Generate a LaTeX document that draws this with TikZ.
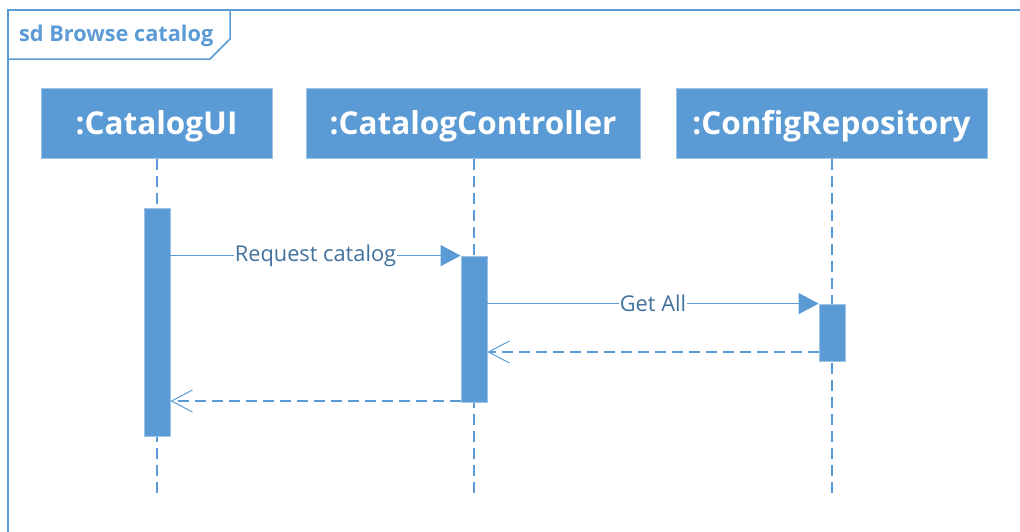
\documentclass[tikz,border=0pt]{standalone}
\usepackage{fontspec}
\setmainfont{Open Sans}
\usetikzlibrary{arrows.meta}
\definecolor{umlblue}{HTML}{5B9BD5}
\definecolor{umledge}{HTML}{9DC3E6}
\definecolor{umltext}{HTML}{41719C}

\tikzset{
  frameline/.style={draw=umlblue, line width=1.5pt},
  head/.style={fill=umlblue, draw=umledge, line width=1pt, text=white,
    font=\fontsize{31.5}{36}\selectfont\bfseries, inner sep=0pt,
    text height=22pt, text depth=0pt},
  lifeline/.style={draw=umlblue, line width=1.5pt, dash pattern=on 11pt off 6pt},
  act/.style={fill=umlblue, draw=umledge, line width=0.8pt, minimum width=26pt, inner sep=0pt},
  msg/.style={draw=umlblue, line width=1.2pt, -{Triangle[length=20pt,width=21pt]}},
  reply/.style={draw=umlblue, line width=1.2pt, dash pattern=on 11pt off 6pt,
    -{Straight Barb[length=21pt,width=22pt,line width=1pt]}},
  msglabel/.style={fill=white, text=umltext, inner sep=1pt,
    font=\fontsize{21.8}{26}\selectfont},
}

\begin{document}
\begin{tikzpicture}[x=1pt,y=-1pt]
\useasboundingbox (0,0) rectangle (1020,531);

% interaction frame and its name tag
\draw[frameline] (8,540) -- (8,10) -- (1030,10);
\draw[frameline] (8,59) -- (210,59) -- (230,39) -- (230,10);
\node[anchor=base west, text=umlblue, font=\fontsize{21.7}{26}\selectfont\bfseries, inner sep=0pt]
  (title) at (19,41) {sd Browse catalog};

% lifeline heads
\node[head, minimum width=231pt, minimum height=70pt] (ui)  at (156.5,123) {:CatalogUI};
\node[head, minimum width=334pt, minimum height=70pt] (ctl) at (473,123) {:CatalogController};
\node[head, minimum width=311pt, minimum height=70pt] (rep) at (831.5,123) {:ConfigRepository};

% lifeline ends
\coordinate (uiend)  at (157,495);
\coordinate (ctlend) at (474,495);
\coordinate (repend) at (832,495);

\draw[lifeline] (ui.south -| uiend) -- (uiend);
\draw[lifeline] (ctl.south -| ctlend) -- (ctlend);
\draw[lifeline] (rep.south -| repend) -- (repend);

% activation bars
\node[act, minimum height=228pt] (uiact)  at (157,322) {};
\node[act, minimum height=146pt] (ctlact) at (474,329) {};
\node[act, minimum height=57pt]  (repact) at (832,332.5) {};

% reply anchors
\coordinate (r1) at (819,352);
\coordinate (r2) at (461,401);

% messages
\draw[msg] (uiact.east |- ctlact.north) -- (ctlact.north west)
  node[msglabel, midway] {Request catalog};
\draw[msg] (ctlact.east |- repact.north) -- (repact.north west)
  node[msglabel, midway] {Get All};
\draw[reply] (r1) -- (ctlact.east |- r1);
\draw[reply] (r2) -- (uiact.east |- r2);
\end{tikzpicture}
\end{document}
